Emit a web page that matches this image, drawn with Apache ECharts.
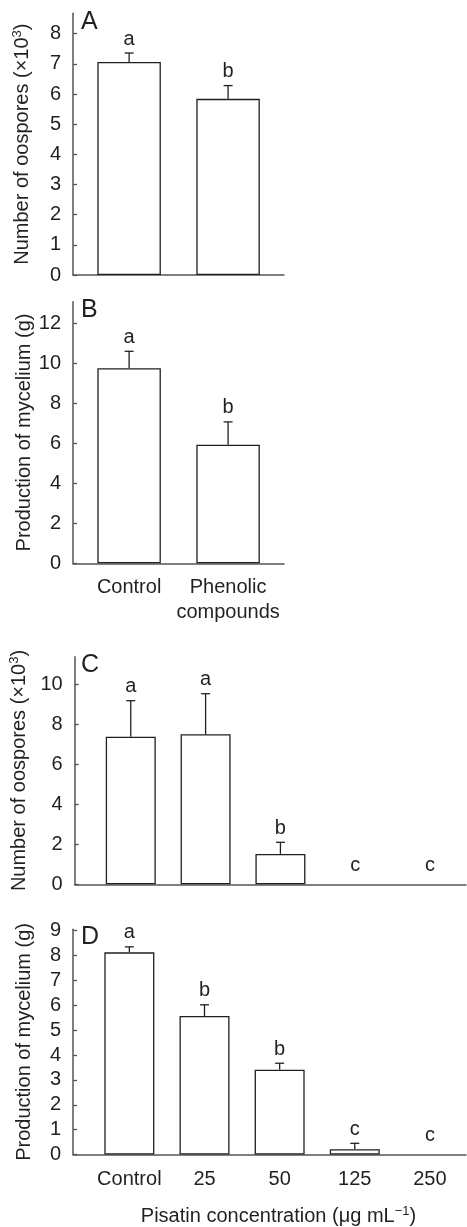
<!DOCTYPE html>
<html>
<head>
<meta charset="utf-8">
<script src="https://cdn.jsdelivr.net/npm/echarts@6/dist/echarts.min.js"></script>
<style>
  html, body { margin: 0; padding: 0; background: #fff; }
  #chart { width: 467px; height: 1227px; }
</style>
</head>
<body>
<div id="chart"></div>
<script>
  // panel A/B: oospores and mycelium, control vs phenolic compounds
  const catsAB = ['Control', 'Phenolic\ncompounds'];
  const oosporesA = [7.06, 5.84];
  const errA = [0.30, 0.44];
  const lettersA = ['a', 'b'];
  const myceliumB = [9.75, 5.93];
  const errB = [0.85, 1.14];
  const lettersB = ['a', 'b'];

  // panel C/D: pisatin concentrations
  const catsCD = ['Control', '25', '50', '125', '250'];
  const oosporesC = [7.38, 7.50, 1.52, 0, 0];
  const errC = [1.80, 2.03, 0.58, 0, 0];
  const lettersC = ['a', 'a', 'b', 'c', 'c'];
  const myceliumD = [8.13, 5.57, 3.41, 0.21, 0];
  const errD = [0.22, 0.45, 0.26, 0.24, 0];
  const lettersD = ['a', 'b', 'b', 'c', 'c'];

  const ticksA = [0, 1, 2, 3, 4, 5, 6, 7, 8];
  const ticksB = [0, 2, 4, 6, 8, 10, 12];
  const ticksC = [0, 2, 4, 6, 8, 10];
  const ticksD = [0, 1, 2, 3, 4, 5, 6, 7, 8, 9];

  const FONT = 'Liberation Sans, Arial, sans-serif';
  const INK = '#231f20';
  const AXIS = '#555';

  let chart = echarts.init(document.getElementById('chart'));

  function xAxisOf (grid, min, max, cats, showLabels, name) {
    return {
      type: 'value', gridIndex: grid, min: min, max: max,
      splitLine: { show: false },
      axisTick: { show: false },
      axisLine: { show: true, lineStyle: { color: AXIS, width: 1.5 } },
      axisLabel: {
        show: showLabels,
        customValues: cats.map((c, i) => i + 1),
        formatter: v => cats[Math.round(v) - 1],
        color: INK, fontFamily: FONT, fontSize: 20, lineHeight: 25, margin: 12
      },
      name: name || '',
      nameLocation: 'middle',
      nameGap: 50,
      nameTextStyle: {
        color: INK, fontFamily: FONT, fontSize: 20, padding: [0, 0, 0, 18],
        rich: {
          n: { fontSize: 20, fontFamily: FONT, color: INK },
          s: { fontSize: 13, fontFamily: FONT, color: INK, padding: [0, 0, 10, 0] }
        }
      }
    }
  }

  function yAxisOf (grid, max, ticks, name) {
    return {
      type: 'value', gridIndex: grid, min: 0, max: max,
      splitLine: { show: false },
      axisLine: { show: true, lineStyle: { color: AXIS, width: 1.5 } },
      axisTick: { show: true, inside: true, length: 4, customValues: ticks, lineStyle: { color: AXIS, width: 1.3 } },
      axisLabel: { customValues: ticks, color: INK, fontFamily: FONT, fontSize: 20, margin: 12 },
      name: name,
      nameLocation: 'middle',
      nameGap: 39,
      nameTextStyle: {
        color: INK, fontFamily: FONT, fontSize: 20,
        rich: {
          n: { fontSize: 20, fontFamily: FONT, color: INK },
          s: { fontSize: 13, fontFamily: FONT, color: INK, padding: [0, 0, 10, 0] }
        }
      }
    }
  }

  function barSeries (idx, values, width) {
    return {
      type: 'bar', xAxisIndex: idx, yAxisIndex: idx,
      barWidth: width,
      data: values.map((v, i) => [i + 1, v === 0 ? '-' : v]),
      itemStyle: { color: '#fff', borderColor: INK, borderWidth: 1.3 },
      silent: true
    }
  }

  function errSeries (idx, values, errs, letters) {
    return {
      type: 'custom', xAxisIndex: idx, yAxisIndex: idx,
      data: values.map((v, i) => [i + 1, v, errs[i]]),
      z: 5,
      renderItem: function (params, api) {
        let x = api.value(0), v = api.value(1), e = api.value(2);
        let base = api.coord([x, v]);
        let top = api.coord([x, v + e]);
        let kids = [];
        if (e > 0) {
          kids.push({ type: 'line', shape: { x1: base[0], y1: base[1], x2: top[0], y2: top[1] },
            style: { stroke: INK, lineWidth: 1.3 } });
          kids.push({ type: 'line', shape: { x1: top[0] - 4.5, y1: top[1], x2: top[0] + 4.5, y2: top[1] },
            style: { stroke: INK, lineWidth: 1.3 } });
        }
        let ly = v === 0 ? base[1] - 19 : top[1] - 14;
        kids.push({ type: 'text', style: { text: letters[params.dataIndex], x: top[0], y: ly,
          textAlign: 'center', textVerticalAlign: 'middle', font: '20px ' + FONT, fill: INK } });
        return { type: 'group', children: kids };
      }
    }
  }

  function panelLabel (txt, top) {
    return { type: 'text', left: 81, top: top, style: { text: txt, font: '25px ' + FONT, fill: INK } }
  }

  let option = {
    backgroundColor: '#fff',
    animation: false,
    grid: [
      { left: 73, top: 13.3, width: 211, height: 261.7 },
      { left: 73, top: 301.7, width: 211, height: 261.6 },
      { left: 73, top: 656.7, width: 393, height: 227.6 },
      { left: 73, top: 929.3, width: 393, height: 229.4 }
    ],
    xAxis: [
      xAxisOf(0, 0.433, 2.565, catsAB, false),
      xAxisOf(1, 0.433, 2.565, catsAB, true),
      xAxisOf(2, 0.25, 5.48, catsCD, false),
      xAxisOf(3, 0.25, 5.48, catsCD, true, '{n|Pisatin concentration (μg mL}{s|−1}{n|)}')
    ],
    yAxis: [
      yAxisOf(0, 8.677, ticksA, '{n|Number of oospores (×10}{s|3}{n|)}'),
      yAxisOf(1, 13.08, ticksB, '{n|Production of mycelium (g)}'),
      yAxisOf(2, 11.38, ticksC, '{n|Number of oospores (×10}{s|3}{n|)}'),
      yAxisOf(3, 9.056, ticksD, '{n|Production of mycelium (g)}')
    ],
    graphic: [
      panelLabel('A', 10), panelLabel('B', 298), panelLabel('C', 653), panelLabel('D', 925)
    ],
    series: [
      barSeries(0, oosporesA, 63.5), errSeries(0, oosporesA, errA, lettersA),
      barSeries(1, myceliumB, 63.5), errSeries(1, myceliumB, errB, lettersB),
      barSeries(2, oosporesC, 50), errSeries(2, oosporesC, errC, lettersC),
      barSeries(3, myceliumD, 50), errSeries(3, myceliumD, errD, lettersD)
    ]
  };
  chart.setOption(option);
</script>
</body>
</html>
